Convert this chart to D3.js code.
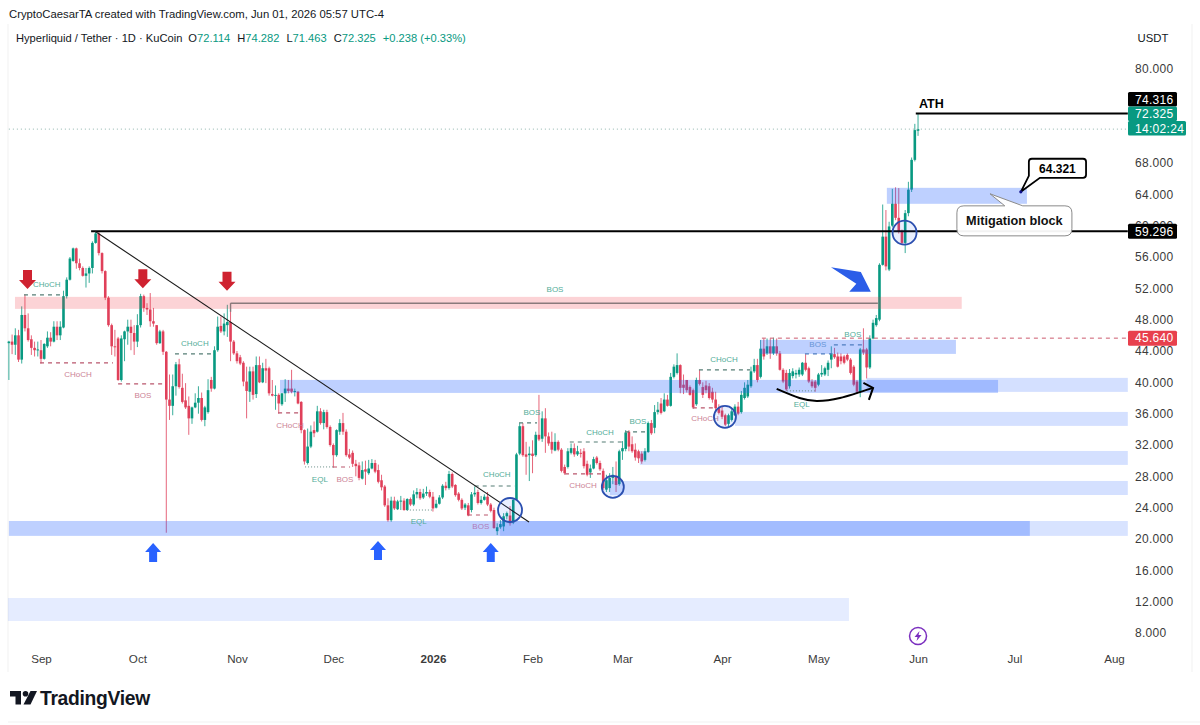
<!DOCTYPE html>
<html>
<head>
<meta charset="utf-8">
<title>Hyperliquid / Tether 1D</title>
<script src="https://cdnjs.cloudflare.com/ajax/libs/d3/7.9.0/d3.min.js"></script>
<style>
  html, body { margin: 0; padding: 0; background: #fff; }
  svg { display: block; font-family: "Liberation Sans", Arial, sans-serif; }
</style>
</head>
<body>
<svg id="chart" width="1200" height="725"></svg>
<script>
// Daily candles, HYPE/USDT on KuCoin, first session 22 Aug 2025, one row of ten sessions per line.
const firstSession = "2025-08-22";
const opens = [
  45,45.2,44.8,46,42.9,48.6,46.9,45.5,44.4,44.1,
  44.1,43,44.6,45.7,45.2,47.1,46,47,51,53.1,
  55.5,57.1,55.2,54.6,53.6,53.9,54.6,57.8,59,56.5,
  54.2,50.8,47.3,44.6,45.6,40.3,45.5,46.5,47.1,46.3,
  45.2,47.3,51,49.5,49.3,47.8,47.3,45,46.5,43.9,
  37.8,37,39.5,42.3,39.3,37.7,37,35.4,36.8,37.4,
  38,35.2,36.2,40.3,39.2,44.1,47.2,46.5,47.3,47.7,
  45.2,43.7,43.2,42.5,40.1,38.8,41.4,38.5,42.2,40,
  41.8,41.8,38.5,38.3,38.4,37.2,38.6,39.2,39.2,38.8,
  38.8,37.5,33.9,29.7,31.8,33.9,33.7,36.3,34.8,36.2,
  34.3,32,30.7,33.7,34.8,33.7,30.8,31,29.6,29.4,
  27.7,28.9,28.4,29,29.7,28.8,27.5,26.7,24.3,22.4,
  24.9,23.8,24.8,24.9,23.7,25.1,24.4,25.7,26,25.3,
  25.8,26,25.4,24,24.5,25.3,26.8,26.5,28.3,26.9,
  25.8,25,24,24.3,23.7,25.7,26,24.6,25,25.4,
  24.4,23.7,21,21.5,21.6,22.9,23,22.1,25,30.9,
  34.4,30.8,30.7,30.9,30.7,33.3,32.8,35.4,33.1,32.4,
  31.3,32.4,31.4,29.2,29.2,31,31.6,30.8,31,31.2,
  29.6,28.5,29,30.4,29.7,28.7,26.3,26.5,27.8,27.9,
  27,31.2,31.5,33.7,32.1,31.4,31.2,30.9,30.1,31.1,
  34.8,34.2,36.2,37.3,36.3,37.8,37,40.7,41.2,42.2,
  39.7,40.3,39.4,39,37.2,40.3,39.4,39.6,39.5,38.8,
  37.8,36.7,36.4,35.8,34.7,35.2,35.8,36.9,36.2,38,
  38.2,39.5,41.4,42.2,40.7,44.3,43.7,44.6,43.7,44.6,
  43.7,41.6,41.2,39.5,40.8,41,41,41,42.5,41.8,
  40.1,40.1,39.7,41,41,41.6,42.9,43.6,43.3,43.3,
  43.3,43.5,42.9,42,40.1,38.8,44.2,44.2,41.9,45.6,
  47.3,48,55,58.6,54.4,60,62.8,61,59.3,57.8,
  61.6,64.6,68.4,72.114
];
const highs = [
  45.3,46.1,46.9,46.7,49.7,51.2,48.8,46,45.2,45.2,
  45.4,45,46.5,46.4,47.8,47.8,47.8,51.7,53.4,56,
  57.2,57.2,55.8,54.8,54.6,54.8,58,59.3,59.3,56.6,
  54.3,51,47.5,46.7,45.8,46,46.6,48,48,47.3,
  48.7,51.3,51.2,50.1,51.4,49.5,47.3,46.7,46.7,44,
  41,41,42.6,43,41.1,39.9,38.2,36.9,38.6,39.5,
  38.7,37,40.4,40.7,44.6,48.4,48.4,48.8,49.9,50.1,
  45.4,44,43.5,42.7,42,42,42,43.3,43.3,42.5,
  43,42,40.3,39.6,38.6,38.6,40.4,40.3,41.6,39.2,
  38.9,37.6,34,34.1,34.5,35,37,36.7,36.5,36.5,
  34.5,32.2,34,35.3,36.1,34,31.5,31.3,30.1,29.8,
  29.9,30,30.1,30.2,30.1,29.5,28.2,26.9,25.2,25.4,
  25.4,25,25.5,25.2,25.2,25.3,26.2,26.5,26.4,26.4,
  26.7,26.3,26,25,25.6,27,27.3,28.7,28.5,27,
  26,25.2,24.6,24.6,26,26.7,26.3,25.5,25.7,26,
  24.6,24,22,22.4,23.3,23.5,24.2,25.2,31,34.8,
  34.8,32.4,31.8,32.6,33.7,38.4,36.3,36.7,33.6,33.7,
  33.5,32.6,31.6,29.5,31.6,32.2,32.2,31.9,31.5,31.6,
  30,29.5,30.5,30.6,30,29,28.2,28.4,29.2,29.9,
  31.4,32.5,33.9,33.9,33.1,32.2,31.4,31.2,31.6,35,
  35.2,37.1,37.5,38,38.6,38.4,41.2,42.3,43.7,42.3,
  41,40.3,39.6,39.2,40.6,41.6,40,40.2,39.9,39.3,
  38.8,37.2,37,36,36,36.6,37.2,37.5,38.9,40,
  40.3,42,43,43,45.4,45.6,45.6,45.6,45.7,45.6,
  44,41.8,41.6,41.7,41.8,41.6,41.9,42.6,43.6,42,
  40.4,40.3,41.2,42.2,42,42.8,44.6,44.4,43.8,43.7,
  43.5,43.7,43.1,42.2,40.3,44.4,46.9,44.4,46,48,
  48.6,55.2,62.7,62,60.5,64.7,64.9,64.8,59.5,62,
  65.6,68.7,73,74.282
];
const lows = [
  40.3,43.6,43.5,42.6,42.4,46.5,45.2,43.5,43.3,43.3,
  42.4,42.9,44.4,44.6,45.1,45.4,45.4,46.9,50.7,53,
  55.4,54.5,54.3,53.5,52.1,52.7,53.9,57.7,56.2,53.9,
  50.5,47.1,43.5,43.3,40.2,40.1,42.7,44.8,44.1,43.5,
  44.5,47,49,48.6,47.1,47.1,44.8,44.9,43.5,20.8,
  35.2,35.8,38.3,39.2,37.3,36.6,33.3,34.7,36.7,36,
  35,34.4,36,38.8,39.1,43.9,46.3,46,45.8,42.7,
  43.5,42.4,42.2,39.5,35.4,37.5,37.8,38,39.9,39.9,
  39.9,38.3,38.2,36.5,36,37,37.5,38.6,38.6,38.2,
  37.2,33.5,29.5,29.5,31.6,33,33.6,34.6,34,34.1,
  31.8,29.1,30.5,33.3,33.3,30.5,30.2,29.2,28,27.5,
  27.6,26.9,28.2,28.9,28.4,27.1,26.2,24.1,22.2,22.2,
  23.7,23.7,23.7,23.6,23.6,24.2,24.2,25.2,25,25.1,
  25.5,25.2,23.5,23.9,24.4,25.1,26.2,26.3,26.5,25.4,
  24.8,23.7,23.7,22.9,23.4,25.4,24.4,24.4,24.9,24.2,
  23.4,21.3,20.5,21.3,21,22.5,21.7,21.9,25,30.7,
  30.5,28.2,27.4,28.4,30.5,32.5,32.4,31,31.9,30.9,
  31.2,31.2,28.5,28.2,29,30.8,30.5,30.6,30.4,29,
  28,27.8,28.9,29.5,28.7,26.3,26,26,27,26,
  26.8,30.1,31.2,31.2,31,30,29.7,29.6,29.9,31,
  33.3,33.5,35.9,35.9,36.2,36.9,36.9,40.5,41,38.6,
  38.5,38.7,38.3,36.6,37,39.6,38,38.6,37.8,37.4,
  36.4,35.9,35.3,34.4,34.2,35,35.7,35.8,36,37.8,
  38,39.3,41.2,40,40.5,42.9,43.5,43,43.5,43.4,
  41.5,39.9,38.9,39.2,40.5,40.5,40.7,40.8,41.4,39.9,
  39.3,38.8,39.5,40.7,40.8,40.8,41.8,43,41.9,42.3,
  42.3,42.7,41,39.5,38.5,38.1,43.5,40.5,41.7,45.5,
  47.1,47.8,54.9,54.3,54.2,59.8,60.7,59,57.6,56.5,
  61.2,64.3,68.2,71.463
];
const closes = [
  45.2,44.8,46,42.9,48.6,46.9,45.4,44.4,44.1,44.2,
  43,44.9,45.7,45.2,47.1,46,47.1,51,53.1,55.8,
  57.1,55.2,54.6,53.6,53.9,54.6,57.8,59,56.5,54.2,
  50.8,47.3,44.6,44.5,40.3,45.6,46.5,47.1,46.3,45.2,
  47.3,51,49.5,49.3,47.8,47.5,45,46.5,43.9,37.8,
  37,39.5,42.3,39.4,37.5,36.8,35.4,36.8,37.4,38,
  35.2,36.8,39,39.2,44.1,47.1,46.5,47.5,47.7,45.2,
  43.7,42.7,42.4,40.1,38.9,41.4,38.4,42.2,40,41.8,
  41.5,38.6,38.3,38.4,37.3,38.6,39.2,38.9,38.8,38.9,
  37.3,33.9,29.9,31.8,33.7,33.5,36.3,34.8,36.2,34.3,
  32,30.7,33.9,34.8,33.7,30.7,30.4,29.6,29.3,27.8,
  28.8,28.6,29,29.7,28.6,27.3,26.6,24.3,22.4,24.9,
  23.9,24.8,24.9,23.7,25.1,24.4,25.7,26,25.2,25.8,
  26,25.4,23.9,24.5,25.3,26.8,26.5,28.3,26.7,25.6,
  25,23.9,24.4,23,25.7,25.9,24.6,25,25.4,24.4,
  23.6,21.4,21.5,21.9,22.9,23.3,22,25,30.8,34.4,
  30.7,30.5,30.9,30.6,33.3,32.7,35.4,33.1,32.2,31.4,
  32.4,31.4,28.7,28.4,31.2,31.6,30.8,31.2,30.9,29.3,
  28.2,29,30.2,29.7,28.9,26.5,27.5,27.8,28.2,26.9,
  31.2,31.6,33.6,31.8,31.2,30.4,30.3,29.9,31.2,34.8,
  33.5,36.2,36.5,36.1,37.8,37,40.7,42,42.2,39.3,
  39.3,39,38.4,36.8,40.3,39.8,38.4,39,38,37.8,
  36.7,36.1,35.6,34.6,35.8,36.3,36.9,36,38.4,39.3,
  39.7,41.4,42.2,40.3,44.3,43.3,44.6,43.7,44.6,43.7,
  41.6,40.1,39.1,41.2,41.4,41.2,41.6,42.5,41.6,40.1,
  39.5,39.3,41,41.2,41.8,42.5,43.7,43.2,42,42.7,
  42.5,42.9,41.2,39.7,38.8,44.2,43.8,41.9,45.6,47.6,
  48.2,55,58.6,54.8,59.9,62.8,61,59.3,57.8,61.6,
  64.6,68.4,72.2,72.325
];

// Axis labels.
const priceTicks = [8,12,16,20,24,28,32,36,40,44,48,52,56,60,64,68,80];
const monthTicks = ["2025-09-01","2025-10-01","2025-11-01","2025-12-01","2026-01-01","2026-02-01",
                    "2026-03-01","2026-04-01","2026-05-01","2026-06-01","2026-07-01","2026-08-01"];
const monthNames = ["Sep","Oct","Nov","Dec","2026","Feb","Mar","Apr","May","Jun","Jul","Aug"];

// Marked levels.
const athLevel = 74.316, lastPrice = 72.325, resistanceLevel = 59.296, dashedLevel = 45.64, breakLevel = 50.1;
const targetLevel = 64.321, chartEndDay = 338.3;

// Zones as [first day after 1 Sep 2025, last day, upper price, lower price, strength].
const blueZones = [
  [-10.3, 251.5, 12.47, 9.53, 0.12],
  [-10, 307.8, 22.3, 20.4, 0.3],
  [142.9, chartEndDay, 22.3, 20.4, 0.18],
  [177.1, chartEndDay, 27.41, 25.62, 0.2],
  [186.4, chartEndDay, 31.24, 29.46, 0.2],
  [216, chartEndDay, 36.22, 34.44, 0.2],
  [74.4, 297.9, 40.31, 38.65, 0.3],
  [257, chartEndDay, 40.57, 38.78, 0.2],
  [223.8, 284.8, 45.42, 43.63, 0.3],
  [263.3, 306.9, 64.83, 62.79, 0.3]
];
const pinkZones = [[-8.1, 286.6, 50.91, 49.38]];

// Structure breaks as [from day, to day, price, colour class].
const structureLines = [
  [-5.3, 6.8, 51.17, "g"], [-0.3, 22.4, 42.48, "r"], [24, 38.6, 39.8, "r"],
  [41.7, 53.5, 43.63, "g"], [73.8, 80.6, 36.1, "r"], [90.9, 96.2, 29.2, "r"],
  [135, 147.5, 26.77, "g"], [132.9, 140.4, 23.07, "r"], [148.8, 154.4, 34.82, "g"],
  [164.6, 180.8, 32.39, "g"], [163.1, 174.6, 28.31, "r"], [181.8, 188.9, 33.67, "g"],
  [204.8, 220.7, 41.59, "g"], [202.9, 209.2, 36.74, "r"], [237.8, 246.2, 43.63, "b"],
  [246.8, 255.8, 44.78, "b"]
];
const equalLows = [[82.2, 90.9, 29.2], [113.9, 122, 23.7], [232.2, 240.9, 38.91]];

// Small structure labels as [text, day, price, colour class].
const structureLabels = [
  ["CHoCH", 1.8, 52.57, "g"], ["CHoCH", 11.5, 41.08, "r"], ["BOS", 31.7, 38.4, "r"],
  ["CHoCH", 47.9, 45.04, "g"], ["CHoCH", 77.5, 34.56, "r"], ["EQL", 86.8, 27.67, "g"],
  ["BOS", 94.6, 27.67, "r"], ["EQL", 117.6, 22.3, "g"], ["CHoCH", 141.9, 28.31, "g"],
  ["BOS", 136.9, 21.67, "p"], ["BOS", 152.8, 36.22, "g"], ["CHoCH", 174, 33.67, "g"],
  ["CHoCH", 168.7, 26.9, "r"], ["BOS", 185.8, 35.08, "g"], ["CHoCH", 212.6, 43, "g"],
  ["CHoCH", 206.7, 35.46, "r"], ["EQL", 236.8, 37.25, "g"], ["BOS", 241.8, 44.91, "b"],
  ["BOS", 252.7, 46.19, "g"], ["BOS", 160, 51.93, "g"]
];

// Turning points: ring centres as [day, price, radius].
const rings = [[146, 23.7, 12], [178, 26.65, 11], [212.9, 35.6, 11], [268.8, 59.1, 12]];
const redArrowDays = [-4.2, 31.7, 57.9], redArrowTips = [51.9, 52, 51.7];
const blueArrowDays = [34.9, 104.9, 140], blueArrowTips = [19.5, 19.75, 19.5];

const width = 1200, height = 725;
const colors = { up: "#089981", down: "#e0405a", text: "#131722", axis: "#3b3b3b" };
const structureColors = { g: "#52ad99", r: "#cc8396", b: "#6594d6", p: "#b07ab8" };

const sep1 = new Date(Date.UTC(2025, 8, 1));
const at = n => d3.utcDay.offset(sep1, 0).getTime() + n * 864e5;
const x = d3.scaleUtc().domain([sep1, new Date(Date.UTC(2026, 7, 1))]).range([41, 1114]);
const y = d3.scaleLinear().domain([8, 80]).range([633, 69]);
const X = n => x(at(n));

const svg = d3.select("#chart");
svg.append("rect").attr("width", width).attr("height", height).attr("fill", "#fff");

// Faint frame around the chart panel.
svg.append("path").attr("d", "M8,24V672M1192,24V672M8,722H1200")
  .attr("fill", "none").attr("stroke", "#f1f1f1");

// Header lines.
svg.append("text").attr("x", 9).attr("y", 18).attr("font-size", 11.3).attr("fill", colors.text)
  .text("CryptoCaesarTA created with TradingView.com, Jun 01, 2026 05:57 UTC-4");
const legend = svg.append("text").attr("x", 16).attr("y", 42).attr("font-size", 11.15).attr("fill", colors.text);
legend.append("tspan").text("Hyperliquid / Tether · 1D · KuCoin");
[["O", "72.114"], ["H", "74.282"], ["L", "71.463"], ["C", "72.325"]].forEach(([k, v], i) => {
  legend.append("tspan").attr("dx", i ? 7 : 6).text(k);
  legend.append("tspan").attr("fill", colors.up).text(v);
});
legend.append("tspan").attr("dx", 7).attr("fill", colors.up).text("+0.238 (+0.33%)");

// Candles.
const sessions = d3.range(closes.length).map(i => ({
  date: d3.utcDay.offset(new Date(firstSession + "T00:00:00Z"), i),
  o: opens[i], h: highs[i], l: lows[i], c: closes[i]
}));
const candle = svg.append("g").selectAll("g").data(sessions).join("g")
  .attr("fill", d => d.c >= d.o ? colors.up : colors.down);
candle.append("rect")
  .attr("x", d => x(d.date) - 0.5).attr("width", 1)
  .attr("y", d => y(d.h)).attr("height", d => Math.max(1, y(d.l) - y(d.h)))
  .attr("opacity", 0.8);
candle.append("rect")
  .attr("x", d => x(d.date) - 1.3).attr("width", 2.6)
  .attr("y", d => y(Math.max(d.o, d.c)))
  .attr("height", d => Math.max(1, Math.abs(y(d.o) - y(d.c))));

// Zones sit over the candles and stay translucent.
const zoneBand = g => g.attr("x", d => X(d[0])).attr("width", d => X(d[1]) - X(d[0]))
  .attr("y", d => y(d[2])).attr("height", d => y(d[3]) - y(d[2]));
svg.append("g").selectAll("rect").data(blueZones).join("rect").call(zoneBand)
  .attr("fill", "#2962ff").attr("fill-opacity", d => d[4]);
svg.append("g").selectAll("rect").data(pinkZones).join("rect").call(zoneBand)
  .attr("fill", "#f23645").attr("fill-opacity", 0.22);

// Last-price dotted guide and dashed level.
svg.append("line").attr("x1", X(-10)).attr("x2", X(chartEndDay)).attr("y1", y(lastPrice)).attr("y2", y(lastPrice))
  .attr("stroke", "#8fb5ad").attr("stroke-width", 1).attr("stroke-dasharray", "1 3");
svg.append("line").attr("x1", X(224.4)).attr("x2", X(chartEndDay)).attr("y1", y(dashedLevel)).attr("y2", y(dashedLevel))
  .attr("stroke", "#cc5a6e").attr("stroke-width", 1).attr("stroke-dasharray", "4 4");

// Structure breaks.
const structure = svg.append("g").attr("fill", "none");
structure.selectAll("line.dash").data(structureLines).join("line").attr("class", "dash")
  .attr("x1", d => X(d[0])).attr("x2", d => X(d[1])).attr("y1", d => y(d[2])).attr("y2", d => y(d[2]))
  .attr("stroke", d => d[3] === "g" ? "#557d75" : d[3] === "r" ? "#b9566c" : "#4e7cc0")
  .attr("stroke-width", 1.1).attr("stroke-dasharray", "4 4");
structure.selectAll("line.eq").data(equalLows).join("line").attr("class", "eq")
  .attr("x1", d => X(d[0])).attr("x2", d => X(d[1])).attr("y1", d => y(d[2])).attr("y2", d => y(d[2]))
  .attr("stroke", "#6a8f88").attr("stroke-width", 1).attr("stroke-dasharray", "1 2");

svg.append("g").selectAll("text").data(structureLabels).join("text")
  .attr("x", d => X(d[1])).attr("y", d => y(d[2])).attr("dy", "0.35em").attr("text-anchor", "middle")
  .attr("font-size", 8).attr("fill", d => structureColors[d[3]]).text(d => d[0]);

// Key levels and the falling trend line.
const levels = svg.append("g").attr("stroke", "#000");
levels.append("line").attr("x1", X(15.6)).attr("x2", X(chartEndDay)).attr("y1", y(resistanceLevel)).attr("y2", y(resistanceLevel)).attr("stroke-width", 2);
levels.append("line").attr("x1", X(272.3)).attr("x2", X(chartEndDay)).attr("y1", y(athLevel)).attr("y2", y(athLevel)).attr("stroke-width", 2);
levels.append("line").attr("x1", X(16.8)).attr("x2", X(151.9)).attr("y1", y(resistanceLevel)).attr("y2", y(22.18)).attr("stroke-width", 1.1).attr("stroke", "#1a1a1a");
levels.append("line").attr("x1", X(59)).attr("x2", X(260.5)).attr("y1", y(breakLevel)).attr("y2", y(breakLevel)).attr("stroke-width", 1.6).attr("stroke", "#8a7a7c");
levels.append("line").attr("x1", X(59)).attr("x2", X(59)).attr("y1", y(breakLevel)).attr("y2", y(49)).attr("stroke-width", 1.4).attr("stroke", "#8a7a7c");

// Rings on the retests.
svg.append("g").selectAll("circle").data(rings).join("circle")
  .attr("cx", d => X(d[0])).attr("cy", d => y(d[1])).attr("r", d => d[2])
  .attr("fill", "#2962ff").attr("fill-opacity", 0.1).attr("stroke", "#2b4fb0").attr("stroke-width", 1.8);

// Supply and demand arrows.
const arrowDown = "M-4.5,-19H4.5V-9H8.5L0,0L-8.5,-9H-4.5Z";
const arrowUp = "M0,0L8,9H4V19H-4V9H-8Z";
redArrowDays.forEach((d, i) => svg.append("path").attr("d", arrowDown)
  .attr("transform", `translate(${X(d)},${y(redArrowTips[i])})`).attr("fill", "#cf2230"));
blueArrowDays.forEach((d, i) => svg.append("path").attr("d", arrowUp)
  .attr("transform", `translate(${X(d)},${y(blueArrowTips[i])})`).attr("fill", "#2962ff"));

// Large breakout arrow.
const breakoutArrow = [[245.9, 54.7], [255.2, 54.1], [258.3, 51.55], [251.6, 51.55], [253.8, 52.6]];
svg.append("path").attr("d", d3.line().x(d => X(d[0])).y(d => y(d[1]))(breakoutArrow) + "Z").attr("fill", "#2b5de8");

// Curved arrow under the equal lows.
const sweep = [[229, 39.16], [236.1, 38], [241.5, 37.63], [248.7, 38], [259, 39.29]];
const sweepHead = [[256, 39.93], [259, 39.29], [257.7, 37.76]];
svg.append("path").attr("d", d3.line().x(d => X(d[0])).y(d => y(d[1])).curve(d3.curveNatural)(sweep))
  .attr("fill", "none").attr("stroke", "#000").attr("stroke-width", 2);
svg.append("path").attr("d", d3.line().x(d => X(d[0])).y(d => y(d[1]))(sweepHead))
  .attr("fill", "none").attr("stroke", "#000").attr("stroke-width", 2);

// ATH tag.
svg.append("text").attr("x", X(273.3)).attr("y", y(75.56)).attr("dy", "0.35em")
  .attr("font-size", 12.5).attr("font-weight", 700).attr("fill", "#000").text("ATH");

// Target callout.
const tx = X(307.5), tr = X(325.3), tt = y(68.54), tb = y(66.11), dotX = X(305), dotY = y(targetLevel);
svg.append("path")
  .attr("d", `M${tx + 3},${tt}H${tr - 3}Q${tr},${tt} ${tr},${tt + 3}V${tb - 3}Q${tr},${tb} ${tr - 3},${tb}H${tx + 11}L${dotX},${dotY}L${tx},${tb - 2}V${tt + 3}Q${tx},${tt} ${tx + 3},${tt}Z`)
  .attr("fill", "#fff").attr("stroke", "#000").attr("stroke-width", 1.8);
svg.append("circle").attr("cx", dotX).attr("cy", dotY).attr("r", 1.6).attr("fill", "#10108a");
svg.append("text").attr("x", (tx + tr) / 2).attr("y", (tt + tb) / 2).attr("dy", "0.36em").attr("text-anchor", "middle")
  .attr("font-size", 12).attr("font-weight", 700).attr("fill", "#000").text(d3.format(".3f")(targetLevel));

// Mitigation block callout.
const mx = X(285.1), mr = X(320.9), mt = y(62.53), mb = y(58.7), tipX = X(295.4), tipY = y(64.07);
svg.append("path")
  .attr("d", `M${mx + 7},${mt}H${X(300)}L${tipX},${tipY}L${X(305.6)},${mt}H${mr - 7}Q${mr},${mt} ${mr},${mt + 7}V${mb - 7}Q${mr},${mb} ${mr - 7},${mb}H${mx + 7}Q${mx},${mb} ${mx},${mb - 7}V${mt + 7}Q${mx},${mt} ${mx + 7},${mt}Z`)
  .attr("fill", "#fff").attr("fill-opacity", 0.95).attr("stroke", "#8a8a8a").attr("stroke-width", 1);
svg.append("text").attr("x", (mx + mr) / 2).attr("y", (mt + mb) / 2).attr("dy", "0.36em").attr("text-anchor", "middle")
  .attr("font-size", 12.7).attr("font-weight", 700).attr("fill", "#111").text("Mitigation block");

// Axes.
const yAxis = d3.axisRight(y).tickValues(priceTicks).tickSize(0).tickPadding(0).tickFormat(d3.format(".3f"));
const yG = svg.append("g").attr("transform", "translate(1135,0)").call(yAxis);
yG.select(".domain").remove();
yG.selectAll("text").attr("font-size", 12).attr("fill", colors.axis).attr("font-family", "inherit").attr("letter-spacing", 0.3);

const monthDates = monthTicks.map(s => new Date(s + "T00:00:00Z"));
const xAxis = d3.axisBottom(x).tickValues(monthDates).tickSize(0).tickPadding(0)
  .tickFormat((d, i) => monthNames[i]);
const xG = svg.append("g").attr("transform", "translate(0,655)").call(xAxis);
xG.select(".domain").remove();
xG.selectAll("text").attr("font-size", 11.6).attr("fill", colors.axis).attr("font-family", "inherit")
  .attr("font-weight", (d, i) => monthNames[i] === "2026" ? 700 : 400);

svg.append("text").attr("x", 1153).attr("y", 42).attr("text-anchor", "middle")
  .attr("font-size", 11.3).attr("fill", colors.text).text("USDT");

// Price tags on the scale.
const tag = (top, h, w, fill, label, color) => {
  svg.append("rect").attr("x", 1128).attr("y", top).attr("width", w).attr("height", h).attr("rx", 1.5).attr("fill", fill);
  svg.append("text").attr("x", 1135).attr("y", top + h / 2).attr("dy", "0.36em")
    .attr("font-size", 12).attr("letter-spacing", 0.3).attr("fill", color).text(label);
};
tag(92, 14.5, 49, "#000", d3.format(".3f")(athLevel), "#fff");
tag(106.5, 14.5, 49, colors.up, d3.format(".3f")(lastPrice), "#fff");
tag(121, 14.5, 58, colors.up, "14:02:24", "#fff");
tag(y(resistanceLevel) - 7.5, 15, 49, "#000", d3.format(".3f")(resistanceLevel), "#fff");
tag(y(dashedLevel) - 7.5, 15, 49, "#e8404d", d3.format(".3f")(dashedLevel), "#fff");

// Bolt badge beside the June sessions.
const bolt = svg.append("g").attr("transform", `translate(${x(new Date("2026-06-01T00:00:00Z"))},636)`);
bolt.append("circle").attr("r", 8.5).attr("fill", "#fff").attr("stroke", "#7b2fbf").attr("stroke-width", 1.5);
bolt.append("path").attr("d", "M1.5,-5L-3.5,1H-0.5L-1.5,5L3.5,-1H0.5Z").attr("fill", "#7b2fbf");

// Wordmark.
const mark = svg.append("g").attr("transform", "translate(10,691)").attr("fill", "#131722");
mark.append("path").attr("d", "M0,0H11V13.5H5.5V5.5H0Z");
mark.append("circle").attr("cx", 15.5).attr("cy", 2.8).attr("r", 2.8);
mark.append("path").attr("d", "M20.5,0H27L20.5,13.5H13.5Z");
svg.append("text").attr("x", 40).attr("y", 704.5).attr("font-size", 19.3).attr("font-weight", 700)
  .attr("letter-spacing", -0.3).attr("fill", "#131722").text("TradingView");
</script>
</body>
</html>
